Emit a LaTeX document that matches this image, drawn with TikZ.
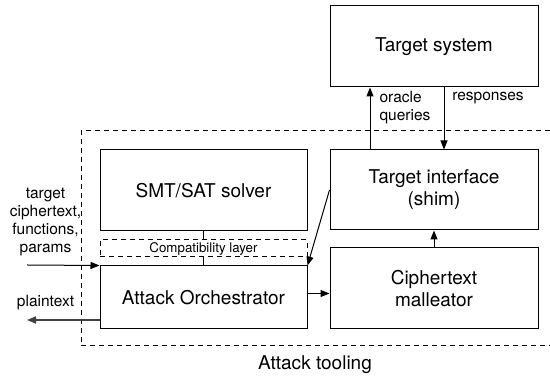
\documentclass[tikz,border=0pt]{standalone}
\usepackage{fontspec}
\setmainfont{TeX Gyre Heros}
\usetikzlibrary{arrows.meta}
\begin{document}
\begin{tikzpicture}[x=1pt, y=1pt, line width=1pt,
        box/.style={draw, inner sep=0pt, align=center, minimum width=208pt, font=\fontsize{19}{22}\selectfont},
        lbl/.style={inner sep=0pt, align=center, font=\fontsize{15.5}{18}\selectfont},
        arr/.style={-{Triangle[length=9pt, width=7pt]}},
        dsh/.style={dash pattern=on 5pt off 4pt}]
        \useasboundingbox (0,0) rectangle (550,377);
        % attack tooling region
        \draw[dsh] (550,246) -- (81,246) -- (81,31) -- (550,31);
        \node[font=\fontsize{19}{22}\selectfont] (tooling) at (315,12) {Attack tooling};
        % boxes
        \node[box, minimum height=81pt] (tsys) at (434,330.5) {Target system};
        \node[box, minimum height=80pt] (tif) at (434,187) {Target interface\\(shim)};
        \node[box, minimum height=81pt] (mall) at (434,88.5) {Ciphertext\\malleator};
        \node[box, minimum width=207pt, minimum height=81pt] (smt) at (203.5,186.5) {SMT/SAT solver};
        \node[box, dsh, minimum width=207pt, minimum height=17pt, font=\fontsize{13.3}{15}\selectfont] (compat) at (203.5,128.5) {Compatibility layer};
        \node[box, minimum width=207pt, minimum height=63pt] (orch) at (203.5,79.5) {Attack Orchestrator};
        % connectors
        \draw (smt.south) -- (compat.north);
        \draw (compat.south) -- (orch.north);
        \draw[arr] ([xshift=-64pt]tif.north) -- ([xshift=-64pt]tsys.south);
        \draw[arr] ([xshift=10pt]tsys.south) -- ([xshift=10pt]tif.north);
        \draw[arr] (mall.north) -- (tif.south);
        \draw[arr] ([yshift=4pt]orch.east) -- ([yshift=4pt]orch.east -| mall.west);
        \draw[arr] (tif.west) -- (orch.north east);
        \coordinate (in) at (27,112);
        \coordinate (out) at (27,57);
        \draw[arr] (in) -- (orch.north west);
        \draw[arr, line width=1.6pt, black!75] ([yshift=-22.5pt]orch.west) -- (out);
        % labels
        \node[lbl, align=left] (oq) at (405,269) {oracle\\queries};
        \node[lbl] (resp) at (488,279) {responses};
        \node[lbl] (inlbl) at (45.5,155) {target\\ciphertext,\\functions,\\params};
        \node[lbl] (outlbl) at (45.5,74) {plaintext};
    \end{tikzpicture}
\end{document}
